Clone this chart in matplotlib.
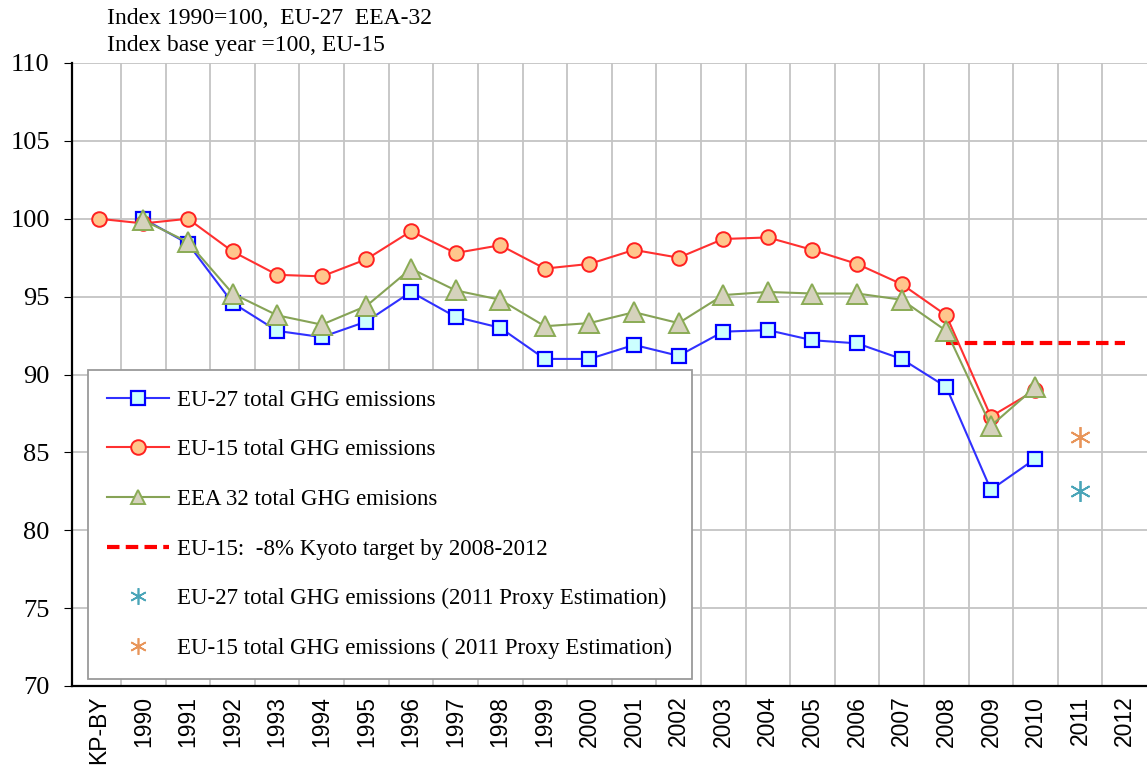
import numpy as np
import matplotlib.pyplot as plt
from matplotlib.lines import Line2D

categories = ['KP-BY'] + [str(y) for y in range(1990, 2013)]

# EU-15 starts at KP base year, others at 1990
eu15 = [100.0, 99.7, 100.0, 97.9, 96.4, 96.3, 97.4, 99.2, 97.8, 98.3, 96.8, 97.1,
        98.0, 97.5, 98.7, 98.8, 98.0, 97.1, 95.8, 93.8, 87.3, 89.0]
eu27 = [100.0, 98.4, 94.6, 92.8, 92.4, 93.4, 95.3, 93.7, 93.0, 91.0, 91.0,
        91.9, 91.2, 92.75, 92.85, 92.2, 92.0, 91.0, 89.2, 82.6, 84.6]
eea32 = [99.9, 98.5, 95.2, 93.8, 93.2, 94.4, 96.8, 95.4, 94.8, 93.1, 93.3,
         94.0, 93.3, 95.1, 95.3, 95.2, 95.2, 94.8, 92.8, 86.7, 89.2]
kyoto_years = ['2008', '2012']
kyoto_target = 92.0
proxy_year = '2011'
eu27_proxy = 82.5
eu15_proxy = 86.0

serif = 'Liberation Serif'
sans = 'Liberation Sans'

fig = plt.figure(figsize=(11.47, 7.66), dpi=100)
ax = fig.add_axes([72 / 1147, 1 - 686 / 766, 1 - 72 / 1147, (686 - 63) / 766])

pos = {c: i for i, c in enumerate(categories)}
x15 = [pos['KP-BY']] + [pos[str(y)] for y in range(1990, 2011)]
x27 = [pos[str(y)] for y in range(1990, 2011)]

ax.plot(x27, eu27, color='#3030ff', lw=1.5, marker='s', ms=10, mfc='#ccffff',
        mec='#0000ff', mew=1.6, zorder=3)
ax.plot(x15, eu15, color='#ff3030', lw=1.5, marker='o', ms=10.5, mfc='#ffc68c',
        mec='#ff2020', mew=1.4, zorder=4)
ax.plot(x27, eea32, color='#86a356', lw=1.5, marker='^', ms=14, mfc='#d5d2bc',
        mec='#8aab55', mew=1.4, zorder=5)
ax.plot([pos[y] for y in kyoto_years], [kyoto_target] * 2, color='#ff0000',
        lw=3, ls=(0, (3, 1.5)), zorder=2)
ax.plot([pos[proxy_year]], [eu27_proxy], ls='none', marker=(6, 2, 0), ms=15,
        color='#4aa5b8', mew=1.3, zorder=3)
ax.plot([pos[proxy_year]], [eu15_proxy], ls='none', marker=(6, 2, 0), ms=15,
        color='#e8955a', mew=1.3, zorder=3)

ax.set_xlim(-0.6, len(categories) - 0.5)
ax.set_ylim(70, 110)
ax.set_yticks(np.arange(70, 111, 5))
ax.set_xticks(range(len(categories)))
ax.set_xticks(np.arange(0.5, len(categories) - 0.5, 1), minor=True)
ax.set_xticklabels(categories, rotation=90, fontfamily=sans, fontsize=16.5)
for lab in ax.get_yticklabels():
    lab.set_fontfamily(serif)
    lab.set_fontsize(19)
ax.tick_params(axis='x', which='both', length=0, pad=7)
ax.tick_params(axis='y', length=6, direction='out', pad=10, color='black')
ax.grid(axis='y', color='#c4c4c4', lw=1.3)
ax.grid(axis='x', which='minor', color='#c4c4c4', lw=1.3)
ax.set_axisbelow(True)
for s in ['top', 'right']:
    ax.spines[s].set_visible(False)
ax.spines['left'].set_linewidth(1.6)
ax.spines['bottom'].set_linewidth(1.6)

handles = [
    Line2D([], [], color='#3030ff', lw=1.5, marker='s', ms=10, mfc='#ccffff', mec='#0000ff', mew=1.6),
    Line2D([], [], color='#ff3030', lw=1.5, marker='o', ms=10.5, mfc='#ffc68c', mec='#ff2020', mew=1.4),
    Line2D([], [], color='#86a356', lw=1.5, marker='^', ms=10, mfc='#d5d2bc', mec='#8aab55', mew=1.4),
    Line2D([], [], color='#ff0000', lw=3, ls=(0, (3, 1.5))),
    Line2D([], [], ls='none', marker=(6, 2, 0), ms=12, color='#4aa5b8', mew=1.2),
    Line2D([], [], ls='none', marker=(6, 2, 0), ms=12, color='#e8955a', mew=1.2),
]
labels = ['EU-27 total GHG emissions', 'EU-15 total GHG emissions',
          'EEA 32 total GHG emisions', 'EU-15:  -8% Kyoto target by 2008-2012',
          'EU-27 total GHG emissions (2011 Proxy Estimation)',
          'EU-15 total GHG emissions ( 2011 Proxy Estimation)']
leg = ax.legend(handles, labels, loc='upper left', bbox_to_anchor=(16 / 1075, (686 - 370) / 623),
                prop={'family': serif, 'size': 16.5}, labelspacing=1.25, handlelength=2.7,
                handletextpad=0.35, borderpad=0.85, fancybox=False, framealpha=1,
                edgecolor='#9a9a9a', borderaxespad=0)
leg.get_frame().set_linewidth(1.3)
leg.set_zorder(10)

fig.text(107 / 1147, 1 - 18 / 766, 'Index 1990=100,  EU-27  EEA-32', fontfamily=serif,
         fontsize=17, va='center', ha='left')
fig.text(107 / 1147, 1 - 45 / 766, 'Index base year =100, EU-15', fontfamily=serif,
         fontsize=17, va='center', ha='left')

fig.savefig('out.png', dpi=100)
